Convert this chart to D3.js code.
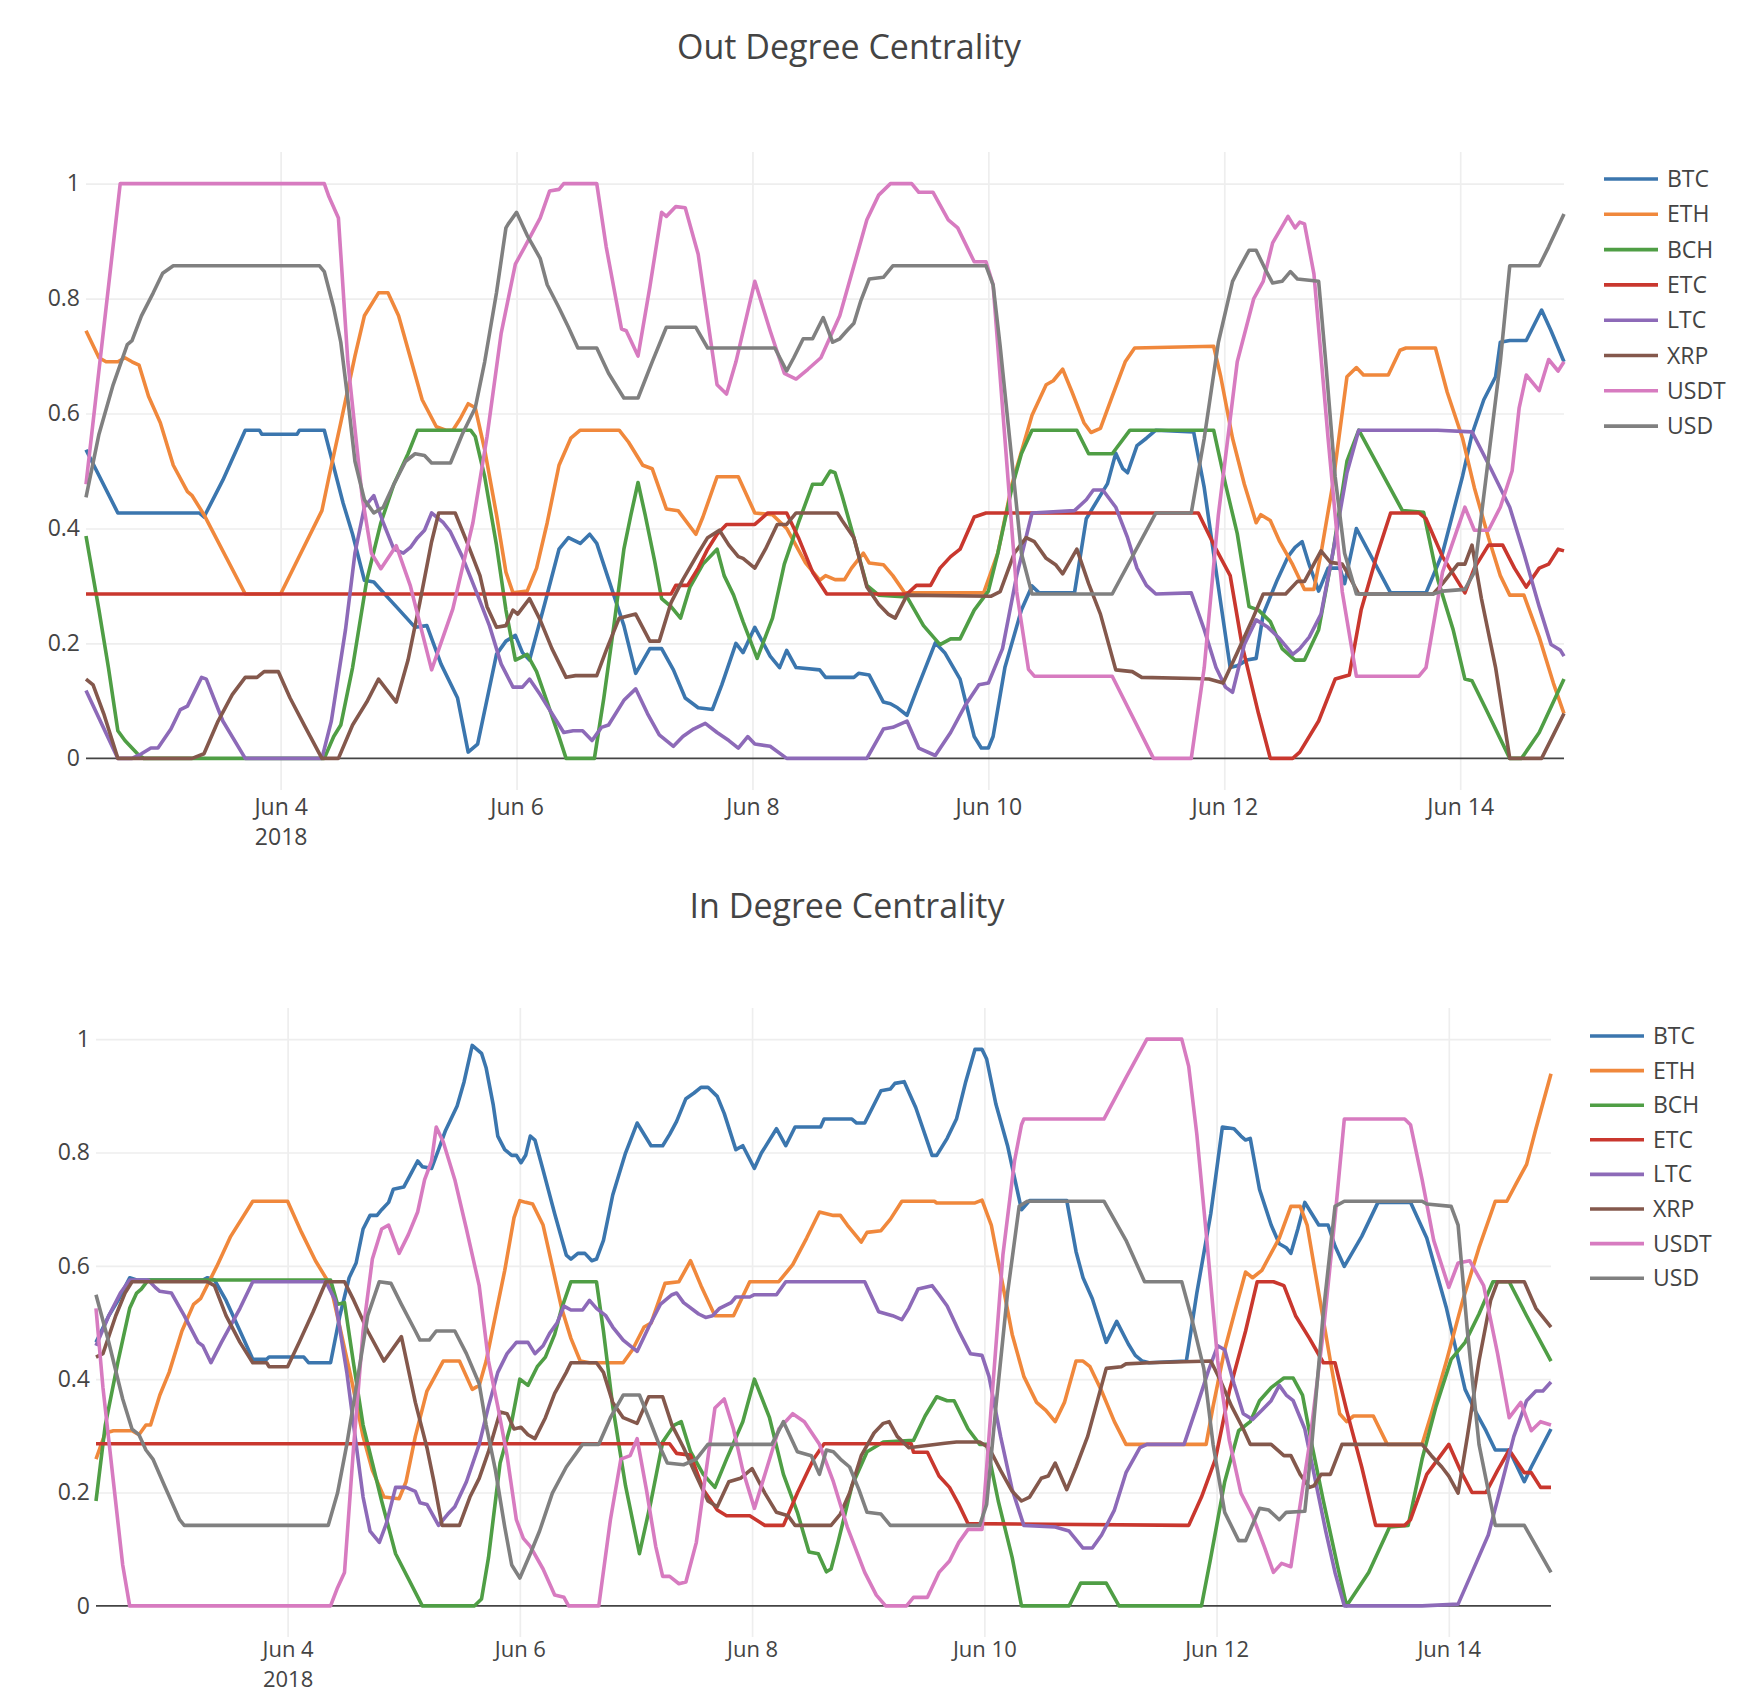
<!DOCTYPE html>
<html>
<head>
<meta charset="utf-8">
<script src="https://cdnjs.cloudflare.com/ajax/libs/d3/7.8.5/d3.min.js"></script>
<style>
  body { margin: 0; background: #fff; }
  svg text { font-family: "Open Sans", sans-serif; fill: #444; }
</style>
</head>
<body>
<div id="chart"></div>
<script>
/*global d3*/

const coins = ['BTC', 'ETH', 'BCH', 'ETC', 'LTC', 'XRP', 'USDT', 'USD'];
const lineColors = ['#3b76ae', '#f0883c', '#4f9e45', '#c9372e', '#8d6ab8', '#84584c', '#d77bc0', '#808080'];
const tickDays = [4, 6, 8, 10, 12, 14];
const yTicks = [0, 0.2, 0.4, 0.6, 0.8, 1];

// out degree centrality, [day of June 2018, value]
const outBTC = [[2.35,.537],[2.62,.427],[3.31,.427],[3.35,.42],[3.51,.484],[3.70,.571],[3.82,.571],[3.84,.564],[4.14,.564],[4.16,.571],[4.37,.571],[4.53,.444],[4.61,.39],[4.71,.31],[4.79,.307],[4.89,.284],[4.98,.264],[5.14,.228],[5.24,.231],[5.36,.164],[5.50,.105],[5.59,.011],[5.67,.025],[5.83,.181],[5.91,.204],[5.99,.214],[6.05,.184],[6.11,.171],[6.24,.27],[6.36,.364],[6.44,.384],[6.54,.374],[6.62,.39],[6.68,.374],[6.76,.324],[6.91,.231],[7.01,.148],[7.13,.191],[7.23,.191],[7.33,.154],[7.43,.105],[7.54,.088],[7.66,.085],[7.74,.128],[7.86,.20],[7.92,.184],[8.02,.228],[8.15,.178],[8.23,.158],[8.29,.188],[8.37,.158],[8.57,.154],[8.62,.141],[8.86,.141],[8.90,.148],[8.99,.145],[9.11,.098],[9.17,.095],[9.23,.088],[9.31,.075],[9.39,.118],[9.55,.201],[9.63,.184],[9.76,.138],[9.88,.038],[9.94,.018],[10.00,.018],[10.04,.038],[10.14,.158],[10.28,.258],[10.37,.30],[10.43,.288],[10.73,.288],[10.83,.417],[11.01,.478],[11.08,.531],[11.14,.504],[11.18,.497],[11.26,.544],[11.34,.557],[11.42,.571],[11.74,.568],[11.83,.471],[11.95,.298],[12.05,.158],[12.11,.161],[12.19,.171],[12.27,.174],[12.33,.251],[12.45,.311],[12.54,.351],[12.60,.367],[12.66,.377],[12.72,.337],[12.80,.291],[12.88,.331],[12.98,.331],[13.02,.304],[13.12,.40],[13.41,.288],[13.71,.288],[13.85,.357],[14.02,.491],[14.10,.564],[14.20,.624],[14.30,.664],[14.34,.724],[14.42,.727],[14.56,.727],[14.69,.78],[14.77,.744],[14.88,.69]];
const outETH = [[2.35,.744],[2.46,.697],[2.52,.69],[2.62,.69],[2.68,.697],[2.74,.69],[2.80,.684],[2.88,.63],[2.98,.584],[3.09,.51],[3.21,.464],[3.25,.457],[3.35,.424],[3.70,.286],[4.00,.286],[4.35,.431],[4.41,.49],[4.51,.584],[4.63,.70],[4.71,.77],[4.83,.81],[4.91,.81],[5.00,.77],[5.10,.697],[5.20,.624],[5.32,.577],[5.40,.571],[5.46,.571],[5.52,.59],[5.59,.617],[5.65,.61],[5.73,.537],[5.83,.424],[5.91,.324],[5.97,.288],[6.09,.291],[6.17,.331],[6.26,.41],[6.36,.51],[6.46,.557],[6.54,.571],[6.87,.571],[6.95,.55],[7.07,.51],[7.15,.504],[7.27,.434],[7.37,.431],[7.52,.39],[7.58,.42],[7.70,.49],[7.76,.49],[7.88,.49],[8.02,.427],[8.17,.424],[8.29,.40],[8.45,.34],[8.57,.31],[8.62,.318],[8.70,.311],[8.78,.311],[8.84,.331],[8.94,.357],[8.99,.34],[9.11,.337],[9.19,.318],[9.29,.288],[9.96,.288],[10.08,.357],[10.20,.477],[10.37,.597],[10.49,.65],[10.55,.657],[10.63,.677],[10.71,.637],[10.81,.584],[10.87,.567],[10.95,.574],[11.05,.63],[11.16,.69],[11.24,.714],[11.91,.717],[11.97,.664],[12.07,.557],[12.17,.477],[12.27,.41],[12.31,.424],[12.39,.414],[12.47,.377],[12.58,.337],[12.68,.294],[12.76,.294],[12.82,.357],[12.92,.477],[13.04,.664],[13.12,.68],[13.18,.667],[13.39,.667],[13.49,.71],[13.54,.714],[13.79,.714],[13.89,.637],[14.02,.557],[14.12,.471],[14.24,.384],[14.34,.318],[14.42,.284],[14.54,.284],[14.67,.211],[14.79,.131],[14.88,.078]];
const outBCH = [[2.35,.387],[2.46,.258],[2.54,.158],[2.62,.048],[2.68,.031],[2.74,.018],[2.80,.005],[2.84,0],[4.37,0],[4.45,.038],[4.51,.058],[4.61,.158],[4.73,.31],[4.85,.41],[4.96,.477],[5.08,.53],[5.16,.571],[5.61,.571],[5.65,.56],[5.73,.49],[5.83,.371],[5.91,.258],[5.99,.171],[6.09,.181],[6.17,.151],[6.26,.098],[6.36,.038],[6.42,0],[6.66,0],[6.74,.105],[6.83,.238],[6.91,.364],[6.97,.424],[7.03,.48],[7.09,.424],[7.17,.344],[7.23,.278],[7.31,.264],[7.39,.244],[7.47,.298],[7.58,.338],[7.70,.364],[7.76,.318],[7.84,.284],[7.92,.238],[8.04,.174],[8.17,.244],[8.27,.338],[8.39,.41],[8.51,.477],[8.59,.477],[8.66,.50],[8.70,.497],[8.76,.457],[8.86,.384],[8.97,.301],[9.07,.284],[9.31,.281],[9.45,.231],[9.59,.198],[9.68,.208],[9.76,.208],[9.88,.258],[10.00,.291],[10.08,.357],[10.20,.471],[10.28,.53],[10.37,.571],[10.75,.571],[10.85,.53],[11.05,.53],[11.20,.571],[11.91,.571],[12.01,.477],[12.11,.391],[12.21,.264],[12.29,.258],[12.39,.238],[12.49,.191],[12.60,.171],[12.68,.171],[12.80,.224],[12.92,.357],[13.04,.517],[13.14,.571],[13.51,.431],[13.69,.428],[13.81,.311],[13.94,.224],[14.04,.138],[14.10,.135],[14.22,.085],[14.42,0],[14.52,0],[14.67,.045],[14.88,.138]];
const outETC = [[2.35,.286],[7.31,.286],[7.35,.301],[7.45,.301],[7.54,.331],[7.62,.364],[7.70,.39],[7.78,.407],[8.02,.407],[8.13,.427],[8.29,.427],[8.39,.384],[8.51,.324],[8.63,.286],[9.31,.286],[9.39,.301],[9.51,.301],[9.59,.331],[9.68,.351],[9.76,.364],[9.88,.42],[9.98,.427],[11.78,.427],[11.93,.364],[12.05,.318],[12.15,.198],[12.29,.078],[12.39,0],[12.58,0],[12.64,.011],[12.80,.065],[12.94,.138],[13.06,.145],[13.16,.258],[13.29,.351],[13.41,.427],[13.65,.427],[13.71,.417],[13.85,.351],[14.04,.288],[14.12,.331],[14.24,.371],[14.36,.371],[14.46,.331],[14.56,.298],[14.67,.331],[14.75,.338],[14.83,.364],[14.88,.361]];
const outLTC = [[2.35,.118],[2.62,0],[2.74,0],[2.82,.008],[2.90,.018],[2.96,.018],[3.07,.051],[3.15,.085],[3.21,.091],[3.33,.141],[3.37,.138],[3.51,.065],[3.70,0],[4.35,0],[4.43,.065],[4.55,.224],[4.63,.357],[4.71,.437],[4.79,.457],[4.87,.41],[4.96,.364],[5.04,.357],[5.10,.367],[5.16,.384],[5.22,.397],[5.28,.427],[5.38,.41],[5.44,.394],[5.54,.351],[5.67,.284],[5.77,.231],[5.87,.164],[5.97,.124],[6.05,.124],[6.11,.138],[6.20,.111],[6.30,.078],[6.40,.045],[6.48,.048],[6.56,.048],[6.64,.031],[6.72,.054],[6.78,.058],[6.91,.101],[7.01,.121],[7.11,.078],[7.21,.041],[7.33,.021],[7.41,.038],[7.50,.051],[7.60,.061],[7.70,.045],[7.80,.031],[7.88,.018],[7.96,.038],[8.02,.025],[8.15,.021],[8.29,0],[8.97,0],[9.11,.051],[9.19,.054],[9.31,.065],[9.41,.018],[9.55,.005],[9.68,.045],[9.80,.091],[9.92,.128],[10.00,.131],[10.12,.191],[10.24,.318],[10.37,.427],[10.73,.431],[10.83,.45],[10.89,.467],[10.97,.467],[11.08,.437],[11.18,.384],[11.26,.331],[11.34,.301],[11.42,.286],[11.72,.288],[11.83,.224],[11.93,.158],[12.01,.124],[12.07,.115],[12.17,.198],[12.27,.241],[12.37,.228],[12.47,.208],[12.58,.181],[12.64,.191],[12.72,.211],[12.82,.251],[12.92,.357],[13.04,.497],[13.14,.571],[13.81,.571],[14.10,.568],[14.26,.504],[14.42,.437],[14.54,.357],[14.67,.264],[14.77,.198],[14.85,.188],[14.88,.178]];
const outXRP = [[2.35,.138],[2.41,.128],[2.50,.078],[2.62,0],[3.25,0],[3.35,.008],[3.47,.065],[3.59,.111],[3.70,.141],[3.80,.141],[3.86,.151],[3.98,.151],[4.08,.105],[4.20,.058],[4.35,0],[4.49,0],[4.61,.058],[4.73,.098],[4.83,.138],[4.98,.098],[5.08,.171],[5.18,.271],[5.28,.377],[5.34,.427],[5.48,.427],[5.59,.371],[5.69,.318],[5.75,.264],[5.83,.228],[5.91,.231],[5.97,.258],[6.01,.251],[6.11,.278],[6.20,.241],[6.30,.191],[6.42,.141],[6.50,.144],[6.68,.144],[6.76,.188],[6.87,.244],[7.01,.251],[7.13,.204],[7.21,.204],[7.31,.271],[7.41,.311],[7.54,.357],[7.62,.384],[7.72,.397],[7.80,.371],[7.88,.351],[7.92,.348],[8.02,.331],[8.11,.364],[8.21,.407],[8.29,.407],[8.37,.427],[8.72,.427],[8.76,.414],[8.86,.384],[8.97,.298],[9.07,.268],[9.15,.251],[9.21,.244],[9.31,.284],[10.02,.282],[10.10,.29],[10.22,.357],[10.32,.384],[10.39,.377],[10.49,.348],[10.57,.337],[10.63,.321],[10.75,.364],[10.85,.304],[10.95,.251],[11.08,.154],[11.22,.151],[11.30,.141],[11.74,.139],[11.87,.138],[11.99,.131],[12.11,.184],[12.23,.238],[12.33,.286],[12.52,.286],[12.62,.308],[12.68,.308],[12.82,.361],[12.90,.341],[13.00,.338],[13.04,.324],[13.14,.286],[13.77,.286],[13.85,.304],[13.98,.338],[14.04,.338],[14.10,.371],[14.18,.278],[14.30,.158],[14.42,0],[14.69,0],[14.79,.041],[14.88,.078]];
const outUSDT = [[2.35,.477],[2.64,1],[4.37,1],[4.41,.977],[4.49,.94],[4.57,.69],[4.69,.457],[4.77,.357],[4.85,.33],[4.98,.37],[5.10,.30],[5.28,.154],[5.46,.26],[5.63,.41],[5.75,.56],[5.87,.74],[5.99,.86],[6.07,.89],[6.20,.94],[6.28,.987],[6.36,.99],[6.40,1],[6.68,1],[6.76,.89],[6.89,.747],[6.93,.744],[7.03,.70],[7.13,.82],[7.23,.95],[7.27,.943],[7.35,.96],[7.43,.958],[7.54,.877],[7.70,.65],[7.78,.634],[7.86,.69],[8.02,.83],[8.15,.744],[8.27,.67],[8.37,.66],[8.47,.677],[8.58,.697],[8.74,.77],[8.86,.857],[8.97,.937],[9.07,.98],[9.17,1],[9.35,1],[9.41,.985],[9.53,.985],[9.66,.937],[9.74,.923],[9.88,.864],[9.98,.864],[10.04,.824],[10.14,.557],[10.24,.29],[10.34,.155],[10.39,.143],[11.05,.143],[11.40,0],[11.72,0],[11.83,.158],[11.95,.424],[12.11,.69],[12.25,.80],[12.33,.83],[12.41,.897],[12.54,.943],[12.60,.923],[12.64,.933],[12.68,.93],[12.76,.843],[12.88,.557],[13.00,.29],[13.12,.143],[13.65,.143],[13.71,.158],[13.85,.324],[14.04,.437],[14.12,.397],[14.24,.397],[14.34,.437],[14.44,.50],[14.50,.61],[14.56,.667],[14.67,.64],[14.75,.694],[14.83,.674],[14.88,.69]];
const outUSD = [[2.35,.454],[2.46,.564],[2.58,.65],[2.70,.72],[2.74,.727],[2.82,.77],[2.92,.81],[3.00,.844],[3.09,.857],[4.33,.857],[4.37,.847],[4.45,.784],[4.51,.724],[4.57,.624],[4.63,.517],[4.71,.45],[4.79,.427],[4.87,.437],[4.96,.477],[5.06,.517],[5.14,.53],[5.22,.527],[5.28,.514],[5.44,.514],[5.54,.564],[5.65,.61],[5.73,.69],[5.83,.81],[5.91,.923],[5.93,.93],[6.00,.95],[6.09,.91],[6.20,.87],[6.26,.824],[6.36,.784],[6.44,.75],[6.52,.714],[6.68,.714],[6.78,.67],[6.91,.627],[7.03,.627],[7.15,.69],[7.27,.75],[7.52,.75],[7.62,.714],[8.19,.714],[8.29,.674],[8.35,.697],[8.43,.73],[8.51,.73],[8.60,.767],[8.68,.724],[8.74,.73],[8.80,.744],[8.86,.757],[8.92,.797],[8.99,.834],[9.11,.837],[9.19,.857],[9.98,.857],[10.04,.824],[10.10,.717],[10.18,.557],[10.28,.357],[10.37,.286],[11.05,.286],[11.42,.427],[11.72,.427],[11.83,.557],[11.95,.724],[12.07,.83],[12.13,.854],[12.21,.884],[12.27,.884],[12.35,.85],[12.41,.827],[12.49,.83],[12.56,.847],[12.62,.834],[12.80,.83],[12.86,.69],[12.94,.49],[13.02,.357],[13.12,.286],[13.77,.286],[13.85,.291],[14.04,.294],[14.12,.324],[14.22,.49],[14.34,.69],[14.42,.857],[14.67,.857],[14.75,.89],[14.88,.947]];

// in degree centrality, [day of June 2018, value]
const inBTC = [[2.35,.465],[2.46,.512],[2.54,.539],[2.64,.579],[2.70,.575],[3.27,.575],[3.31,.579],[3.37,.575],[3.47,.539],[3.59,.485],[3.70,.435],[3.82,.435],[3.84,.439],[4.14,.439],[4.18,.429],[4.37,.429],[4.45,.512],[4.53,.579],[4.59,.605],[4.65,.665],[4.71,.689],[4.77,.689],[4.81,.699],[4.87,.712],[4.91,.735],[5.00,.739],[5.06,.762],[5.12,.785],[5.16,.775],[5.24,.772],[5.30,.805],[5.36,.839],[5.46,.882],[5.52,.925],[5.59,.989],[5.63,.982],[5.67,.975],[5.71,.949],[5.77,.885],[5.81,.829],[5.87,.805],[5.93,.795],[5.97,.795],[6.01,.782],[6.05,.795],[6.09,.829],[6.13,.822],[6.20,.769],[6.30,.692],[6.40,.619],[6.44,.612],[6.50,.622],[6.56,.622],[6.62,.609],[6.66,.612],[6.72,.645],[6.80,.725],[6.91,.799],[7.01,.852],[7.13,.812],[7.23,.812],[7.29,.832],[7.35,.855],[7.43,.895],[7.50,.905],[7.56,.915],[7.62,.915],[7.70,.899],[7.76,.869],[7.86,.805],[7.92,.812],[8.02,.772],[8.08,.799],[8.21,.842],[8.29,.812],[8.37,.845],[8.59,.845],[8.62,.859],[8.86,.859],[8.90,.852],[8.97,.852],[9.11,.909],[9.19,.912],[9.23,.922],[9.31,.925],[9.41,.879],[9.55,.795],[9.59,.795],[9.68,.825],[9.76,.859],[9.84,.925],[9.92,.982],[9.98,.982],[10.02,.965],[10.10,.885],[10.20,.812],[10.32,.699],[10.39,.715],[10.71,.715],[10.79,.625],[10.85,.579],[10.93,.542],[11.05,.465],[11.14,.502],[11.24,.462],[11.30,.442],[11.36,.432],[11.42,.429],[11.74,.432],[11.83,.552],[11.95,.692],[12.05,.845],[12.15,.842],[12.21,.829],[12.25,.822],[12.29,.825],[12.37,.735],[12.47,.672],[12.54,.639],[12.60,.632],[12.64,.622],[12.70,.665],[12.76,.712],[12.82,.692],[12.88,.672],[12.96,.672],[13.02,.635],[13.10,.599],[13.25,.652],[13.39,.712],[13.67,.712],[13.81,.649],[13.98,.525],[14.14,.382],[14.24,.339],[14.32,.309],[14.40,.275],[14.52,.275],[14.65,.219],[14.71,.245],[14.88,.312]];
const inETH = [[2.35,.259],[2.43,.305],[2.50,.309],[2.66,.309],[2.72,.302],[2.78,.319],[2.82,.319],[2.90,.372],[2.98,.412],[3.09,.485],[3.19,.532],[3.25,.542],[3.39,.599],[3.51,.652],[3.70,.714],[4.00,.714],[4.12,.659],[4.24,.609],[4.37,.565],[4.45,.492],[4.55,.399],[4.65,.299],[4.73,.239],[4.83,.192],[4.96,.189],[5.02,.219],[5.10,.299],[5.20,.379],[5.34,.432],[5.48,.432],[5.59,.382],[5.65,.389],[5.71,.432],[5.79,.512],[5.87,.592],[5.95,.685],[6.00,.715],[6.05,.712],[6.11,.709],[6.20,.672],[6.28,.599],[6.36,.525],[6.44,.472],[6.52,.432],[6.60,.429],[6.89,.429],[6.97,.452],[7.07,.492],[7.13,.499],[7.25,.569],[7.37,.572],[7.47,.609],[7.56,.565],[7.68,.512],[7.84,.512],[7.98,.572],[8.23,.572],[8.35,.602],[8.47,.649],[8.58,.695],[8.70,.689],[8.76,.689],[8.82,.672],[8.90,.652],[8.94,.642],[8.99,.659],[9.11,.662],[9.19,.682],[9.29,.714],[9.57,.714],[9.59,.711],[9.92,.711],[9.98,.716],[10.06,.672],[10.16,.565],[10.24,.479],[10.34,.405],[10.45,.359],[10.53,.345],[10.61,.325],[10.69,.359],[10.79,.432],[10.85,.432],[10.91,.422],[11.01,.379],[11.12,.325],[11.22,.285],[11.91,.285],[11.97,.352],[12.07,.452],[12.17,.529],[12.25,.589],[12.31,.579],[12.39,.592],[12.54,.649],[12.64,.705],[12.72,.705],[12.78,.672],[12.88,.552],[12.98,.432],[13.06,.339],[13.12,.325],[13.18,.335],[13.35,.335],[13.47,.285],[13.77,.285],[13.85,.339],[13.98,.432],[14.12,.539],[14.26,.632],[14.40,.714],[14.50,.714],[14.58,.745],[14.67,.779],[14.75,.842],[14.88,.939]];
const inBCH = [[2.35,.185],[2.43,.319],[2.54,.432],[2.64,.525],[2.70,.552],[2.74,.559],[2.80,.575],[4.37,.575],[4.43,.532],[4.49,.535],[4.57,.425],[4.65,.319],[4.73,.252],[4.81,.185],[4.93,.092],[5.16,0],[5.61,0],[5.67,.012],[5.73,.085],[5.83,.252],[5.93,.325],[6.00,.40],[6.07,.389],[6.15,.422],[6.22,.439],[6.30,.479],[6.36,.525],[6.44,.572],[6.66,.572],[6.72,.485],[6.80,.352],[6.91,.212],[7.03,.092],[7.13,.185],[7.23,.289],[7.33,.319],[7.39,.325],[7.47,.272],[7.58,.232],[7.68,.209],[7.78,.259],[7.92,.325],[8.02,.40],[8.15,.332],[8.27,.232],[8.39,.165],[8.49,.095],[8.57,.092],[8.64,.06],[8.68,.065],[8.74,.112],[8.86,.212],[8.99,.272],[9.13,.289],[9.39,.292],[9.49,.335],[9.59,.369],[9.68,.362],[9.74,.362],[9.86,.312],[9.96,.285],[10.02,.285],[10.12,.185],[10.24,.085],[10.32,0],[10.73,0],[10.83,.04],[11.05,.04],[11.16,0],[11.87,0],[11.95,.085],[12.07,.219],[12.19,.309],[12.29,.325],[12.37,.362],[12.47,.385],[12.58,.402],[12.66,.402],[12.74,.372],[12.82,.285],[12.92,.185],[13.04,.072],[13.12,0],[13.31,.059],[13.49,.139],[13.65,.142],[13.77,.259],[13.89,.352],[14.02,.435],[14.14,.465],[14.26,.515],[14.38,.572],[14.52,.572],[14.67,.512],[14.88,.432]];
const inETC = [[2.35,.286],[7.29,.286],[7.35,.269],[7.47,.266],[7.58,.205],[7.70,.169],[7.78,.159],[7.98,.159],[8.11,.142],[8.27,.142],[8.39,.199],[8.53,.259],[8.62,.286],[9.37,.286],[9.39,.271],[9.51,.271],[9.61,.229],[9.70,.209],[9.78,.179],[9.86,.145],[11.76,.142],[11.87,.192],[11.99,.259],[12.11,.379],[12.25,.485],[12.35,.572],[12.49,.572],[12.58,.565],[12.68,.512],[12.80,.472],[12.92,.429],[13.02,.429],[13.12,.345],[13.25,.245],[13.37,.142],[13.62,.142],[13.67,.152],[13.81,.232],[14.00,.285],[14.10,.239],[14.20,.20],[14.32,.20],[14.42,.239],[14.52,.275],[14.65,.235],[14.71,.235],[14.79,.209],[14.88,.209]];
const inLTC = [[2.35,.459],[2.46,.512],[2.56,.552],[2.64,.575],[2.80,.575],[2.86,.562],[2.90,.555],[3.00,.552],[3.11,.512],[3.23,.465],[3.27,.459],[3.34,.429],[3.43,.465],[3.59,.525],[3.70,.572],[4.33,.572],[4.41,.539],[4.51,.412],[4.59,.285],[4.65,.192],[4.71,.132],[4.79,.112],[4.85,.145],[4.93,.209],[5.02,.209],[5.10,.202],[5.14,.182],[5.20,.179],[5.30,.142],[5.38,.162],[5.44,.175],[5.54,.219],[5.65,.285],[5.73,.352],[5.81,.412],[5.89,.445],[5.97,.465],[6.07,.465],[6.13,.445],[6.20,.459],[6.26,.482],[6.32,.499],[6.38,.529],[6.44,.522],[6.54,.522],[6.60,.539],[6.66,.525],[6.74,.512],[6.80,.492],[6.89,.469],[7.01,.449],[7.11,.492],[7.21,.532],[7.31,.549],[7.35,.552],[7.41,.535],[7.54,.515],[7.60,.509],[7.66,.512],[7.72,.525],[7.82,.535],[7.86,.545],[7.98,.545],[8.02,.549],[8.21,.549],[8.29,.572],[8.97,.572],[9.09,.519],[9.21,.512],[9.29,.505],[9.35,.525],[9.43,.559],[9.55,.565],[9.61,.549],[9.68,.529],[9.78,.485],[9.88,.445],[9.98,.442],[10.04,.405],[10.14,.299],[10.24,.205],[10.34,.142],[10.61,.139],[10.73,.132],[10.85,.102],[10.93,.102],[11.01,.125],[11.12,.169],[11.22,.235],[11.34,.279],[11.40,.285],[11.72,.285],[11.83,.352],[11.93,.415],[12.01,.459],[12.07,.452],[12.15,.392],[12.23,.339],[12.31,.329],[12.39,.345],[12.47,.362],[12.54,.389],[12.60,.372],[12.66,.362],[12.76,.312],[12.84,.232],[12.94,.132],[13.02,.059],[13.10,0],[13.77,0],[14.08,.003],[14.20,.059],[14.34,.125],[14.46,.219],[14.56,.299],[14.67,.362],[14.75,.379],[14.81,.379],[14.88,.395]];
const inXRP = [[2.35,.439],[2.41,.445],[2.52,.512],[2.60,.552],[2.66,.572],[3.31,.572],[3.37,.565],[3.47,.512],[3.59,.465],[3.70,.429],[3.82,.429],[3.84,.422],[4.00,.422],[4.10,.465],[4.22,.519],[4.33,.572],[4.49,.572],[4.57,.539],[4.69,.485],[4.83,.432],[4.98,.475],[5.10,.359],[5.20,.279],[5.26,.219],[5.33,.142],[5.48,.142],[5.57,.192],[5.65,.225],[5.73,.272],[5.83,.342],[5.89,.339],[5.95,.312],[6.01,.315],[6.07,.302],[6.13,.295],[6.22,.332],[6.30,.375],[6.40,.412],[6.44,.429],[6.66,.429],[6.72,.412],[6.80,.359],[6.89,.332],[7.01,.322],[7.11,.369],[7.23,.369],[7.31,.319],[7.41,.279],[7.52,.229],[7.62,.185],[7.70,.175],[7.80,.219],[7.90,.225],[8.00,.242],[8.11,.199],[8.21,.165],[8.31,.159],[8.37,.142],[8.68,.142],[8.76,.162],[8.84,.199],[8.94,.265],[9.05,.305],[9.13,.322],[9.18,.325],[9.25,.299],[9.35,.279],[9.66,.287],[9.76,.289],[9.96,.289],[10.04,.279],[10.14,.239],[10.24,.202],[10.32,.185],[10.39,.192],[10.49,.225],[10.55,.229],[10.61,.252],[10.71,.205],[10.79,.245],[10.89,.299],[10.97,.359],[11.05,.419],[11.18,.422],[11.22,.427],[11.42,.429],[11.95,.432],[12.03,.399],[12.13,.352],[12.23,.312],[12.29,.285],[12.47,.285],[12.58,.265],[12.64,.265],[12.72,.232],[12.80,.209],[12.84,.212],[12.90,.232],[12.98,.232],[13.08,.285],[13.77,.285],[13.85,.265],[13.94,.245],[14.00,.229],[14.08,.199],[14.16,.299],[14.26,.432],[14.36,.539],[14.42,.572],[14.65,.572],[14.75,.525],[14.88,.492]];
const inUSDT = [[2.35,.525],[2.41,.385],[2.50,.219],[2.58,.072],[2.64,0],[4.37,0],[4.43,.032],[4.49,.059],[4.57,.285],[4.65,.485],[4.73,.612],[4.81,.665],[4.87,.672],[4.96,.622],[5.04,.655],[5.12,.695],[5.18,.752],[5.24,.785],[5.28,.845],[5.34,.819],[5.44,.752],[5.54,.665],[5.65,.565],[5.73,.432],[5.81,.352],[5.89,.265],[5.97,.152],[6.03,.119],[6.09,.105],[6.20,.065],[6.30,.019],[6.38,.015],[6.42,0],[6.68,0],[6.78,.152],[6.87,.259],[6.95,.265],[7.01,.295],[7.09,.205],[7.17,.105],[7.23,.052],[7.29,.052],[7.37,.039],[7.43,.042],[7.52,.112],[7.60,.232],[7.68,.349],[7.76,.365],[7.84,.312],[7.92,.239],[8.02,.172],[8.13,.245],[8.23,.312],[8.35,.339],[8.45,.325],[8.58,.285],[8.70,.219],[8.82,.139],[8.97,.059],[9.07,.019],[9.15,0],[9.33,0],[9.39,.015],[9.51,.015],[9.61,.059],[9.70,.079],[9.78,.112],[9.86,.135],[9.98,.135],[10.06,.352],[10.16,.619],[10.26,.785],[10.32,.849],[10.34,.859],[11.03,.859],[11.22,.932],[11.40,1],[11.70,1],[11.76,.952],[11.83,.832],[11.91,.659],[12.01,.432],[12.11,.292],[12.21,.199],[12.31,.159],[12.41,.105],[12.49,.059],[12.56,.075],[12.64,.069],[12.70,.152],[12.80,.285],[12.92,.485],[13.02,.685],[13.10,.859],[13.62,.859],[13.67,.849],[13.77,.752],[13.87,.645],[14.00,.562],[14.08,.605],[14.18,.609],[14.30,.565],[14.42,.445],[14.52,.332],[14.62,.359],[14.71,.309],[14.79,.325],[14.88,.319]];
const inUSD = [[2.35,.549],[2.46,.465],[2.58,.365],[2.66,.312],[2.72,.302],[2.78,.275],[2.84,.259],[2.94,.212],[3.07,.152],[3.11,.142],[4.35,.142],[4.43,.199],[4.51,.285],[4.59,.385],[4.69,.512],[4.79,.572],[4.89,.569],[4.98,.532],[5.10,.485],[5.14,.469],[5.22,.469],[5.28,.485],[5.44,.485],[5.54,.445],[5.65,.392],[5.71,.319],[5.79,.239],[5.87,.139],[5.93,.072],[6.00,.049],[6.09,.092],[6.17,.132],[6.28,.199],[6.40,.245],[6.54,.285],[6.68,.285],[6.78,.332],[6.89,.372],[7.03,.372],[7.11,.332],[7.21,.279],[7.27,.252],[7.41,.249],[7.52,.259],[7.62,.285],[8.17,.285],[8.27,.325],[8.39,.272],[8.51,.265],[8.58,.232],[8.64,.275],[8.70,.272],[8.76,.259],[8.84,.245],[8.92,.205],[8.99,.165],[9.11,.162],[9.19,.142],[9.96,.142],[10.02,.179],[10.10,.352],[10.20,.552],[10.30,.705],[10.37,.714],[11.03,.714],[11.22,.645],[11.38,.572],[11.70,.572],[11.78,.512],[11.89,.419],[11.97,.285],[12.07,.165],[12.19,.115],[12.25,.115],[12.37,.172],[12.45,.169],[12.54,.152],[12.60,.165],[12.76,.167],[12.82,.285],[12.92,.519],[13.02,.705],[13.10,.714],[13.77,.714],[13.81,.709],[14.02,.705],[14.08,.672],[14.16,.485],[14.26,.285],[14.40,.142],[14.65,.142],[14.88,.059]];

const outDegree = [outBTC, outETH, outBCH, outETC, outLTC, outXRP, outUSDT, outUSD];
const inDegree = [inBTC, inETH, inBCH, inETC, inLTC, inXRP, inUSDT, inUSD];

// day of june -> utc date
function toDate(day) {
    return new Date(Date.UTC(2018, 5, 1) + (day - 1) * 864e5);
}


class Chart {

    constructor(opts) {
        // load in arguments from config object
        this.svg = opts.svg;
        this.title = opts.title;
        this.series = opts.series;
        this.box = opts.box;
        this.legend = opts.legend;
        this.draw();
    }

    draw() {
        this.plot = this.svg.append('g');
        this.createScales();
        this.addGrid();
        this.addAxes();
        this.addLines();
        this.addLegend();
        this.addTitle();
    }

    createScales() {
        const b = this.box;
        const all = this.series.flat();

        this.xScale = d3.scaleUtc()
            .domain(d3.extent(all, d => toDate(d[0])))
            .range([b.left, b.right]);

        // plotly pads the autorange a bit
        this.yScale = d3.scaleLinear()
            .domain([-0.055, 1.055])
            .range([b.bottom, b.top]);
    }

    addGrid() {
        const b = this.box;

        const xGrid = this.plot.append('g')
            .attr('transform', `translate(0,${b.bottom})`)
            .call(d3.axisBottom(this.xScale)
                .tickValues(tickDays.map(toDate))
                .tickSize(-(b.bottom - b.top))
                .tickFormat(''));

        const yGrid = this.plot.append('g')
            .attr('transform', `translate(${b.left},0)`)
            .call(d3.axisLeft(this.yScale)
                .tickValues(yTicks.filter(v => v !== 0))
                .tickSize(-(b.right - b.left))
                .tickFormat(''));

        [xGrid, yGrid].forEach(g => {
            g.select('.domain').remove();
            g.selectAll('line').attr('stroke', '#eee').attr('stroke-width', 1.7);
        });

        // zero line
        this.plot.append('line')
            .attr('x1', b.left)
            .attr('x2', b.right)
            .attr('y1', this.yScale(0))
            .attr('y2', this.yScale(0))
            .attr('stroke', '#444')
            .attr('stroke-width', 1.7);
    }

    addAxes() {
        const b = this.box;

        const xAxis = this.plot.append('g')
            .attr('transform', `translate(0,${b.bottom})`)
            .call(d3.axisBottom(this.xScale)
                .tickValues(tickDays.map(toDate))
                .tickSize(0)
                .tickPadding(b.xPad)
                .tickFormat(d3.utcFormat('%b %-d')));

        // year as a second line of the first tick, like plotly does
        xAxis.select('.tick text')
            .append('tspan')
            .attr('x', 0)
            .attr('dy', b.yearGap)
            .text('2018');

        const yAxis = this.plot.append('g')
            .attr('transform', `translate(${b.left},0)`)
            .call(d3.axisLeft(this.yScale)
                .tickValues(yTicks)
                .tickSize(0)
                .tickPadding(6)
                .tickFormat(d3.format('~g')));

        [xAxis, yAxis].forEach(g => {
            g.select('.domain').remove();
            g.attr('font-family', null)
             .attr('font-size', 23);
            g.selectAll('text').attr('fill', '#444');
        });
        // the lower chart sits close to the page edge
        xAxis.attr('font-size', b.xFont);
    }

    addLines() {
        const line = d3.line()
            .x(d => this.xScale(toDate(d[0])))
            .y(d => this.yScale(d[1]));

        this.plot.selectAll('path.series')
            .data(this.series)
            .join('path')
            .attr('class', 'series')
            .attr('d', line)
            .attr('fill', 'none')
            .attr('stroke', (d, i) => lineColors[i])
            .attr('stroke-width', 3.6)
            .attr('stroke-linejoin', 'round');
    }

    addLegend() {
        const l = this.legend;
        const items = this.plot.append('g')
            .selectAll('g')
            .data(coins)
            .join('g')
            .attr('transform', (d, i) => `translate(0,${l.y + i * l.step})`);

        items.append('line')
            .attr('x1', l.x)
            .attr('x2', l.x + 54)
            .attr('stroke', (d, i) => lineColors[i])
            .attr('stroke-width', 3.6);

        items.append('text')
            .attr('x', l.x + 63)
            .attr('dy', '0.35em')
            .attr('font-size', 23)
            .text(d => d);
    }

    addTitle() {
        this.plot.append('text')
            .attr('x', this.box.titleX)
            .attr('y', this.box.titleY)
            .attr('text-anchor', 'middle')
            .attr('font-size', 34)
            .text(this.title);
    }
}


const svg = d3.select('#chart')
    .append('svg')
    .attr('width', 1752)
    .attr('height', 1693)
    .style('background', '#fff');

new Chart({
    svg: svg,
    title: 'Out Degree Centrality',
    series: outDegree,
    box: {left: 86, right: 1564, top: 152, bottom: 790, xPad: 9, yearGap: 30, xFont: 23, titleX: 849, titleY: 59},
    legend: {x: 1604, y: 179, step: 35.3}
});

new Chart({
    svg: svg,
    title: 'In Degree Centrality',
    series: inDegree,
    box: {left: 96, right: 1551, top: 1008, bottom: 1637, xPad: 4, yearGap: 30, xFont: 22, titleX: 847, titleY: 918},
    legend: {x: 1590, y: 1036, step: 34.6}
});
</script>
</body>
</html>
